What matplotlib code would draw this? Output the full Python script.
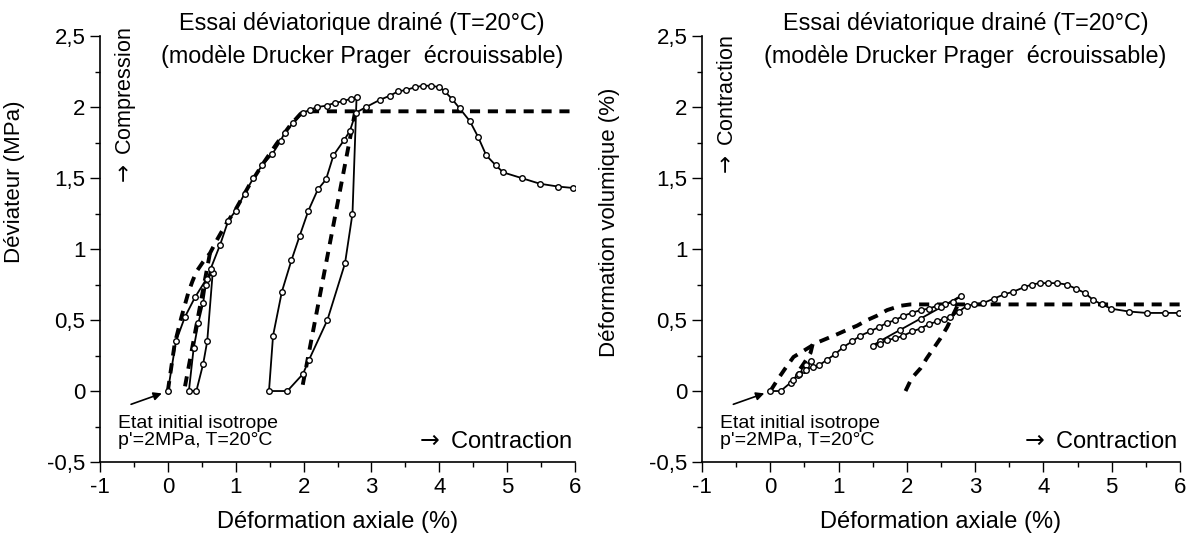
import matplotlib
matplotlib.use("Agg")
import matplotlib.pyplot as plt
from matplotlib.ticker import MultipleLocator

plt.rcParams['font.family'] = ['Liberation Sans', 'DejaVu Sans']
plt.rcParams['mathtext.fontset'] = 'dejavusans'

# --- left: deviator (MPa) vs axial strain (%) ---
q_exp_x = [0, 0.12, 0.25, 0.40, 0.57, 0.66, 0.58, 0.52, 0.42, 0.31, 0.38, 0.45, 0.52, 0.56,
           0.63, 0.77, 0.89, 1.00, 1.13, 1.26, 1.39, 1.54, 1.66, 1.72, 1.85, 1.99, 2.09, 2.20,
           2.34, 2.46, 2.58, 2.70, 2.78, 2.72, 2.61, 2.35, 2.08, 1.99, 1.76, 1.49, 1.55, 1.68,
           1.82, 1.94, 2.07, 2.21, 2.33, 2.44, 2.60, 2.68, 2.77, 2.92, 3.12, 3.27, 3.39, 3.51,
           3.64, 3.76, 3.88, 4.00, 4.08, 4.18, 4.30, 4.45, 4.57, 4.69, 4.83, 4.94, 5.21, 5.48,
           5.75, 5.97]
q_exp_y = [0, 0.35, 0.52, 0.66, 0.79, 0.83, 0.35, 0.19, 0, 0, 0.30, 0.48, 0.62, 0.75,
           0.86, 1.03, 1.20, 1.27, 1.39, 1.50, 1.59, 1.67, 1.76, 1.82, 1.89, 1.96, 1.98, 2.00,
           2.01, 2.03, 2.04, 2.06, 2.07, 1.25, 0.90, 0.50, 0.22, 0.12, 0, 0, 0.39, 0.70,
           0.92, 1.09, 1.27, 1.42, 1.49, 1.66, 1.77, 1.83, 1.96, 2.00, 2.05, 2.08, 2.11, 2.12,
           2.14, 2.15, 2.15, 2.14, 2.11, 2.06, 1.99, 1.90, 1.79, 1.66, 1.59, 1.54, 1.50, 1.46,
           1.44, 1.43]

q_mod_x = [0, 0.1, 0.2, 0.3, 0.36, 0.42, 0.52, 0.62, 0.73, 0.85, 1.0, 1.2, 1.4, 1.6, 1.8,
           1.95, 2.0, 6.0]
q_mod_y = [0, 0.33, 0.52, 0.69, 0.77, 0.84, 0.91, 0.97, 1.07, 1.17, 1.28, 1.45, 1.60, 1.74,
           1.87, 1.95, 1.97, 1.97]
q_unl1_x = [0.62, 0.24]
q_unl1_y = [0.97, 0]
q_unl2_x = [2.76, 1.97]
q_unl2_y = [1.97, 0]

# --- right: volumetric strain (%) vs axial strain (%) ---
v_exp_x = [0, 0.15, 0.30, 0.42, 0.52, 0.60, 0.50, 0.40, 0.33, 0.42, 0.52, 0.62, 0.71, 0.83,
           0.95, 1.07, 1.20, 1.32, 1.46, 1.59, 1.71, 1.83, 1.95, 2.07, 2.20, 2.32, 2.44, 2.56,
           2.68, 2.79, 2.50, 2.20, 1.90, 1.60, 1.50, 1.60, 1.71, 1.83, 1.95, 2.08, 2.20, 2.32,
           2.44, 2.55, 2.63, 2.76, 2.88, 2.98, 3.12, 3.27, 3.42, 3.56, 3.71, 3.83, 3.95, 4.07,
           4.20, 4.34, 4.48, 4.61, 4.73, 4.86, 4.99, 5.25, 5.51, 5.78, 5.99]
v_exp_y = [0, 0, 0.06, 0.12, 0.18, 0.21, 0.15, 0.11, 0.08, 0.12, 0.15, 0.17, 0.18, 0.22,
           0.26, 0.31, 0.35, 0.39, 0.42, 0.45, 0.48, 0.50, 0.53, 0.55, 0.57, 0.58, 0.60, 0.61,
           0.63, 0.67, 0.59, 0.51, 0.43, 0.35, 0.32, 0.33, 0.36, 0.37, 0.39, 0.42, 0.44, 0.47,
           0.49, 0.51, 0.52, 0.56, 0.60, 0.61, 0.62, 0.65, 0.68, 0.70, 0.73, 0.75, 0.76, 0.76,
           0.76, 0.75, 0.72, 0.69, 0.64, 0.61, 0.58, 0.56, 0.55, 0.55, 0.55]

v_mod_x = [0, 0.12, 0.22, 0.34, 0.51, 0.68, 0.83, 0.98, 1.12, 1.27, 1.42, 1.56, 1.71, 1.90,
           2.05, 6.0]
v_mod_y = [0, 0.09, 0.16, 0.24, 0.29, 0.34, 0.37, 0.40, 0.43, 0.46, 0.50, 0.53, 0.57, 0.60,
           0.61, 0.61]
v_unl1_x = [0.62, 0.59, 0.50, 0.40]
v_unl1_y = [0.33, 0.27, 0.20, 0.13]
v_unl2_x = [1.98, 2.07, 2.20, 2.29, 2.39, 2.49, 2.59, 2.66, 2.75]
v_unl2_y = [0, 0.09, 0.16, 0.23, 0.30, 0.37, 0.45, 0.52, 0.61]

yticks = [-0.5, 0, 0.5, 1, 1.5, 2, 2.5]
ytick_labels = ['-0,5', '0', '0,5', '1', '1,5', '2', '2,5']
xticks = [-1, 0, 1, 2, 3, 4, 5, 6]
xtick_labels = ['-1', '0', '1', '2', '3', '4', '5', '6']

title1 = "Essai déviatorique drainé (T=20°C)"
title2 = "(modèle Drucker Prager  écrouissable)"

fig = plt.figure(figsize=(11.97, 5.44), dpi=100)
ax1 = fig.add_axes([0.0835, 0.1507, 0.397, 0.783])
ax2 = fig.add_axes([0.5865, 0.1507, 0.3993, 0.783])

exp_style = dict(color='black', lw=1.3, marker='o', ms=4, mfc='white', mec='black', mew=1.0)
mod_style = dict(color='black', lw=2.8, dashes=(2.6, 2.0))


def style_axes(ax, ylabel, side_text, ylab_pos):
    ax.set_xlim(-1, 6)
    ax.set_ylim(-0.5, 2.5)
    ax.spines['top'].set_visible(False)
    ax.spines['right'].set_visible(False)
    ax.spines['left'].set_linewidth(1.2)
    ax.spines['bottom'].set_linewidth(1.2)
    ax.set_yticks(yticks)
    ax.set_yticklabels(ytick_labels)
    ax.set_xticks(xticks)
    ax.set_xticklabels(xtick_labels)
    ax.yaxis.set_minor_locator(MultipleLocator(0.25))
    ax.xaxis.set_minor_locator(MultipleLocator(0.5))
    ax.tick_params(which='major', length=7, width=1, labelsize=16, direction='out')
    ax.tick_params(which='minor', length=3.5, width=1, direction='out')
    ax.set_xlabel("Déformation axiale (%)", fontsize=17, labelpad=10)
    ax.set_ylabel(ylabel, fontsize=16)
    ax.yaxis.set_label_coords(ylab_pos[0], ylab_pos[1])
    ax.text(2.86, 2.54, title1, ha='center', va='baseline', fontsize=16.8, clip_on=False)
    ax.text(2.86, 2.31, title2, ha='center', va='baseline', fontsize=16.8, clip_on=False)
    ax.text(-0.62, 2.0, r"$\rightarrow$ " + side_text, rotation=90, ha='center',
            va='center', fontsize=15.5)
    ax.text(5.95, -0.40, r"$\rightarrow$ Contraction", ha='right', va='baseline',
            fontsize=17)
    ax.text(-0.74, -0.26, "Etat initial isotrope", ha='left', va='baseline', fontsize=14)
    ax.text(-0.74, -0.38, "p'=2MPa, T=20°C", ha='left', va='baseline', fontsize=14)
    ax.annotate("", xy=(-0.05, -0.01), xytext=(-0.58, -0.10),
                arrowprops=dict(arrowstyle='-|>', color='black', lw=1.2,
                                mutation_scale=12))


ax1.plot(q_mod_x, q_mod_y, **mod_style)
ax1.plot(q_unl1_x, q_unl1_y, **mod_style)
ax1.plot(q_unl2_x, q_unl2_y, **mod_style)
ax1.plot(q_exp_x, q_exp_y, **exp_style)
style_axes(ax1, "Déviateur (MPa)", "Compression", (-0.158, 0.657))

ax2.plot(v_mod_x, v_mod_y, **mod_style)
ax2.plot(v_unl1_x, v_unl1_y, **mod_style)
ax2.plot(v_unl2_x, v_unl2_y, **mod_style)
ax2.plot(v_exp_x, v_exp_y, **exp_style)
style_axes(ax2, "Déformation volumique (%)", "Contraction", (-0.172, 0.563))

fig.savefig("out.png", dpi=100)
